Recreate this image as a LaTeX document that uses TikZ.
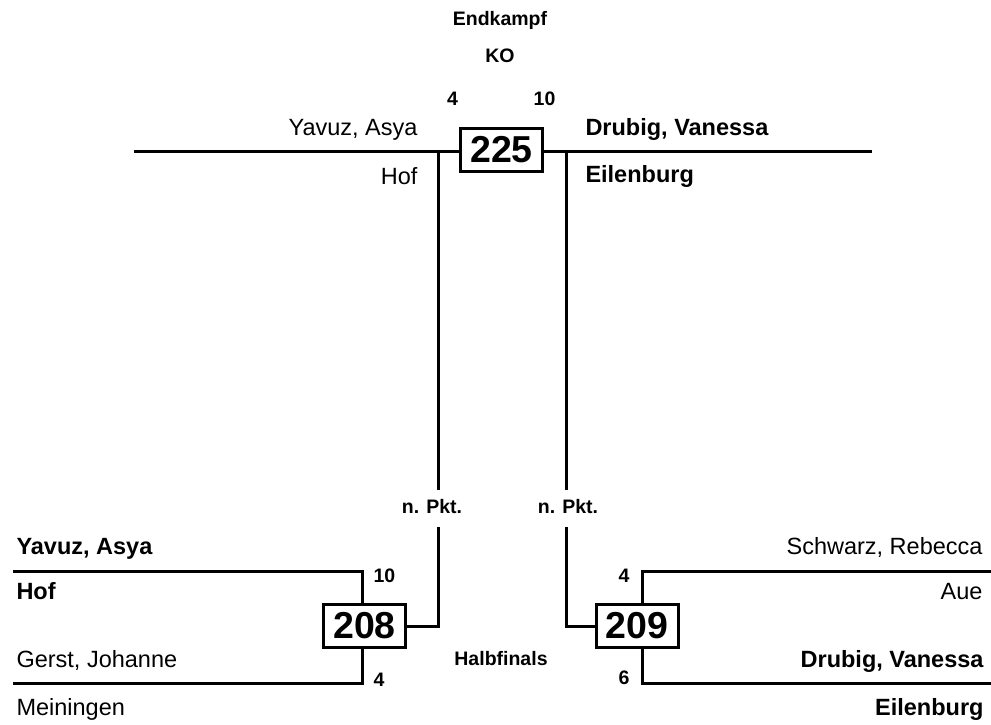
\documentclass[tikz,border=0pt]{standalone}
\usepackage{fontspec}
\setmainfont{Liberation Sans}
\begin{document}
\begin{tikzpicture}[x=1pt, y=-1pt, line width=3pt,
  kampf/.style={draw, fill=white, line width=3pt, inner sep=0pt, minimum width=82pt, minimum height=43pt, font=\bfseries\fontsize{37.5}{40}\selectfont},
  spieler/.style={inner sep=0pt, font=\fontsize{23.5}{26}\selectfont},
  spielerfett/.style={inner sep=0pt, font=\bfseries\fontsize{23.5}{26}\selectfont},
  angabe/.style={inner sep=0pt, font=\bfseries\fontsize{19.5}{22}\selectfont}]
  \useasboundingbox (0,0) rectangle (991,725);

  % Endkampf
  \node[angabe, anchor=base] (titel) at (500,26) {Endkampf};
  \node[angabe, anchor=base] (ko) at (500,63) {KO};
  \coordinate (fl) at (134,151);
  \coordinate (fr) at (872,151);
  \draw (fl) -- (fr);
  \node[kampf] (k225) at (501.5,150) {225};
  \node[angabe, anchor=base] (p225l) at (452.5,106) {4};
  \node[angabe, anchor=base] (p225r) at (544.5,106) {10};
  \node[spieler, anchor=base east] (n225l) at (419,135) {Yavuz, Asya};
  \node[spieler, anchor=base east] (v225l) at (419,184) {Hof};
  \node[spielerfett, anchor=base west] (n225r) at (584,135) {Drubig, Vanessa};
  \node[spielerfett, anchor=base west] (v225r) at (584,182) {Eilenburg};

  % Verbindungen zum Endkampf
  \coordinate (al) at (438,151);
  \coordinate (bl) at (438,490);
  \coordinate (cl) at (438,527);
  \coordinate (ar) at (566,151);
  \coordinate (br) at (566,490);
  \coordinate (cr) at (566,527);
  \draw (al) -- (bl);
  \draw (ar) -- (br);
  \node[angabe, anchor=base] (pktl) at (432,513) {n. Pkt.};
  \node[angabe, anchor=base] (pktr) at (568,513) {n. Pkt.};

  % Halbfinale 208
  \node[kampf] (k208) at (364.5,626) {208};
  \coordinate (o208) at (13,571);
  \coordinate (u208) at (13,683);
  \coordinate (s208) at (362,571);
  \draw (cl) -- (cl |- k208.east) -- (k208.east);
  \draw (o208) -- (s208) -- (s208 |- k208.north);
  \draw (u208) -- (s208 |- u208) -- (s208 |- k208.south);
  \node[spielerfett, anchor=base west] (n208o) at (15,554) {Yavuz, Asya};
  \node[spielerfett, anchor=base west] (v208o) at (15,599) {Hof};
  \node[spieler, anchor=base west] (n208u) at (15,667) {Gerst, Johanne};
  \node[spieler, anchor=base west] (v208u) at (15,715) {Meiningen};
  \node[angabe, anchor=base west] (p208o) at (372,582) {10};
  \node[angabe, anchor=base west] (p208u) at (372,686) {4};

  % Halbfinale 209
  \node[kampf] (k209) at (637,626) {209};
  \coordinate (o209) at (991,571);
  \coordinate (u209) at (991,683);
  \coordinate (s209) at (642,571);
  \draw (cr) -- (cr |- k209.west) -- (k209.west);
  \draw (o209) -- (s209) -- (s209 |- k209.north);
  \draw (u209) -- (s209 |- u209) -- (s209 |- k209.south);
  \node[spieler, anchor=base east] (n209o) at (984,554) {Schwarz, Rebecca};
  \node[spieler, anchor=base east] (v209o) at (984,599) {Aue};
  \node[spielerfett, anchor=base east] (n209u) at (985,667) {Drubig, Vanessa};
  \node[spielerfett, anchor=base east] (v209u) at (985,715) {Eilenburg};
  \node[angabe, anchor=base east] (p209o) at (631,582) {4};
  \node[angabe, anchor=base east] (p209u) at (631,684) {6};

  \node[angabe, anchor=base] (runde) at (501,665) {Halbfinals};
\end{tikzpicture}
\end{document}
